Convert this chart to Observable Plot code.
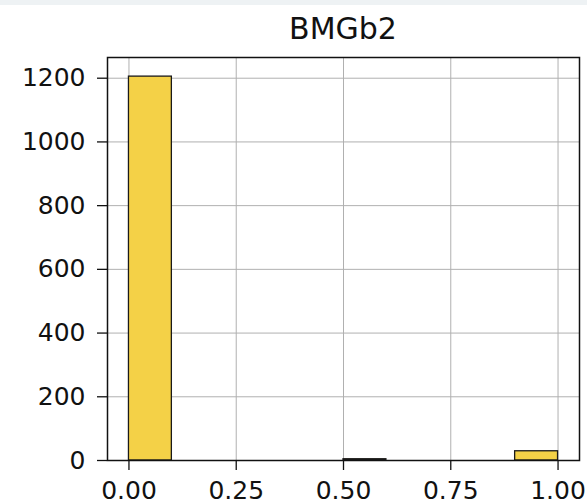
<!DOCTYPE html>
<html>
<head>
<meta charset="utf-8">
<script src="https://cdn.jsdelivr.net/npm/d3@7"></script>
<script src="https://cdn.jsdelivr.net/npm/@observablehq/plot@0.6"></script>
<style>
  html, body { margin: 0; padding: 0; background: #ffffff; }
  #wrap { position: relative; width: 587px; height: 504px; overflow: hidden; }
  #band { position: absolute; left: 0; top: 0; width: 587px; height: 5px; background: #eef2f4; }
  #title { position: absolute; left: 107px; width: 472px; top: 14px; text-align: center;
           font-family: "DejaVu Sans", sans-serif; font-size: 30px; line-height: 30px; color: #111; }
  #chart { position: absolute; left: 0; top: 46px; }
</style>
</head>
<body>
<div id="wrap">
  <div id="band"></div>
  <div id="title">BMGb2</div>
  <div id="chart"></div>
</div>
<script>
// Histogram bins (10 equal bins from 0 to 1) and their counts
const binEdges = [0, 0.1, 0.2, 0.3, 0.4, 0.5, 0.6, 0.7, 0.8, 0.9, 1.0];
const counts = [1205, 0, 0, 0, 0, 4, 0, 0, 0, 29];
const xTicks = [0, 0.25, 0.5, 0.75, 1.0];
const yTicks = [0, 200, 400, 600, 800, 1000, 1200];

const bins = counts.map((c, i) => ({x1: binEdges[i], x2: binEdges[i + 1], count: c}))
  .filter(d => d.count > 0);

const chart = Plot.plot({
  width: 587,
  height: 458,
  marginTop: 11,
  marginBottom: 44,
  marginLeft: 107,
  marginRight: 8,
  style: {fontFamily: "DejaVu Sans, sans-serif", fontSize: "25px", color: "#111", background: "transparent"},
  x: {domain: [-0.05, 1.05], label: null},
  y: {domain: [0, 1265], label: null},
  marks: [
    Plot.gridX(xTicks, {stroke: "#b0b0b0", strokeOpacity: 1, strokeWidth: 1}),
    Plot.gridY(yTicks, {stroke: "#b0b0b0", strokeOpacity: 1, strokeWidth: 1}),
    Plot.rectY(bins, {x1: "x1", x2: "x2", y1: 0, y2: "count", fill: "#f4d147", stroke: "#1a1a1a", strokeWidth: 1.3, inset: 0}),
    Plot.frame({stroke: "#111", strokeWidth: 1.5}),
    Plot.axisX(xTicks, {tickFormat: d3.format(".2f"), tickSize: 10, tickPadding: 11, stroke: "#111", strokeWidth: 1.3, fontSize: 25, label: null}),
    Plot.axisY(yTicks, {tickFormat: d => String(d), tickSize: 10, tickPadding: 12, stroke: "#111", strokeWidth: 1.3, fontSize: 25, label: null})
  ]
});
document.getElementById("chart").appendChild(chart);
</script>
</body>
</html>
